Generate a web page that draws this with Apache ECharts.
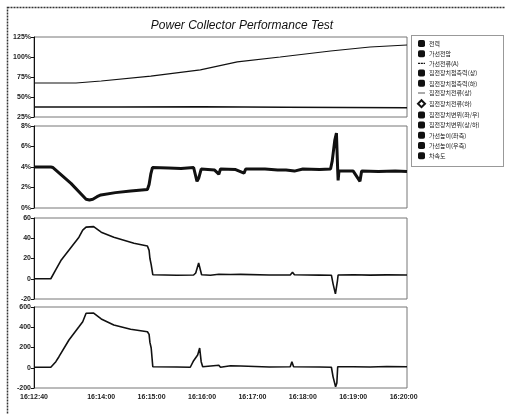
<!DOCTYPE html>
<html>
<head>
<meta charset="utf-8">
<script src="https://cdn.jsdelivr.net/npm/echarts@6/dist/echarts.min.js"></script>
<style>html,body{margin:0;padding:0;background:#fff}#c{width:505px;height:414px}</style>
</head>
<body>
<div id="c"></div>
<script>
// ---- data (seconds since start, values) ----
const startTime = [16, 12, 40];
const xTickSeconds = [0, 80, 140, 200, 260, 320, 380, 440];

const legendNames = ["전력","가선전압","가선전류(A)","집전장치접촉력(상)","집전장치접촉력(하)","집전장치전류(상)","집전장치전류(하)","집전장치변위(좌/우)","집전장치변위(상/하)","가선높이(좌측)","가선높이(우측)","차속도"];

// panel 1 (%)
const p1aT = [0, 50, 80, 139, 198, 242, 293, 353, 400, 444];
const p1aV = [67.5, 67.5, 70, 76, 84, 94, 100, 107.5, 112.5, 115];
const p1bT = [0, 100, 200, 300, 444];
const p1bV = [37.5, 37.5, 37.8, 37.2, 36.5];

// panel 2 (%)
const p2T = [0, 20, 22.6, 44, 62, 66, 70, 75, 79.6, 97, 115, 135, 137, 139, 141, 160, 175, 190, 194, 196, 199, 215, 220, 222, 240, 250, 252, 275, 290, 300, 310, 320, 340, 353, 355, 358, 360, 361.5, 362, 363, 380, 388, 390, 410, 430, 444];
const p2V = [4.0, 4.0, 3.95, 2.4, 0.85, 0.78, 0.85, 1.1, 1.27, 1.5, 1.65, 1.8, 2.3, 3.3, 3.95, 3.9, 3.85, 3.95, 2.6, 2.9, 3.8, 3.7, 3.3, 3.8, 3.75, 3.4, 3.8, 3.8, 3.7, 3.7, 3.6, 3.8, 3.75, 3.8, 4.6, 6.6, 7.3, 3.7, 2.7, 3.6, 3.6, 2.6, 3.6, 3.55, 3.6, 3.55];

// panel 3
const p3T = [0, 20, 26, 32, 53.5, 58, 62, 71, 80, 95, 119, 135, 137, 138, 139.5, 141.4, 142, 170, 190, 192.5, 196, 198, 199.5, 210, 220, 222, 234, 236, 246, 248, 280, 305, 307.7, 310, 340, 354, 356, 358.8, 360, 361.2, 362, 380, 400, 420, 444];
const p3V = [0, 0, 9, 18, 41, 48, 51, 51.5, 46, 41, 35, 32.4, 28, 20, 14, 4, 3.7, 3.5, 3.7, 5.7, 15.6, 14, 4, 3.5, 4.5, 3.5, 4.2, 3.4, 4.3, 3.6, 3.7, 3.8, 6.5, 3.9, 3.6, 3.5, -5, -15, -16, -2, 3.7, 3.9, 3.6, 3.8, 3.7];

// panel 4
const p4T = [0, 20, 26, 29.7, 41.6, 53.5, 58, 62, 71, 80, 95, 115, 135, 137, 138, 139.5, 141.4, 170, 186, 190, 194.8, 197.2, 199, 200.8, 220, 222, 234, 236, 246, 248, 280, 305, 307, 309, 340, 354, 356, 359, 360.5, 361.5, 380, 400, 420, 444];
const p4V = [5, 5, 60, 109, 274, 405, 455, 538, 540, 482, 422, 380, 356, 330, 250, 195, 10, 8, 5, 70, 126, 195, 60, 10, 25, 5, 20, 5, 18, 5, 8, 10, 60, 10, 8, 5, -90, -187, -150, 10, 10, 8, 12, 10];

const yTicks = [
  {min: 25, max: 125, interval: 25, fmt: '{value}%'},
  {min: 0, max: 8, interval: 2, fmt: '{value}%'},
  {min: -20, max: 60, interval: 20, fmt: '{value}'},
  {min: -200, max: 600, interval: 200, fmt: '{value}'}
];

// ---- build ----
const zip = (t, v) => t.map((x, i) => [x, v[i]]);
const pad = n => (n < 10 ? '0' : '') + n;
function timeLabel(s) {
  let tot = startTime[0] * 3600 + startTime[1] * 60 + startTime[2] + Math.round(s);
  const h = Math.floor(tot / 3600), m = Math.floor((tot % 3600) / 60), sec = tot % 60;
  return h + ':' + pad(m) + ':' + pad(sec);
}

const grids = [
  {left: 34, right: 98, top: 37, height: 80},
  {left: 34, right: 98, top: 126, height: 82},
  {left: 34, right: 98, top: 218, height: 81},
  {left: 34, right: 98, top: 307, height: 81}
].map(g => Object.assign({show: true, borderColor: '#777', borderWidth: 1, backgroundColor: '#fff'}, g));

const lblFont = {fontSize: 7, fontWeight: 'bold', color: '#222', fontFamily: 'Liberation Sans'};

const xAxes = grids.map((g, i) => ({
  type: 'value', gridIndex: i, min: 0, max: 444,
  splitLine: {show: false},
  axisLine: {show: false},
  axisTick: {show: false},
  axisLabel: i === 3 ? Object.assign({show: true, customValues: xTickSeconds, formatter: v => timeLabel(v), margin: 6}, lblFont) : {show: false}
}));

const yAxes = yTicks.map((y, i) => ({
  type: 'value', gridIndex: i, min: y.min, max: y.max, interval: y.interval,
  splitLine: {show: false},
  axisLine: {show: true, lineStyle: {color: '#111', width: 1}},
  axisTick: {show: true, length: 3, lineStyle: {color: '#111'}},
  axisLabel: Object.assign({formatter: y.fmt, margin: 3}, lblFont)
}));

const drawn = {
  "가선전압": {x: 0, d: zip(p1aT, p1aV), w: 1.2},
  "가선높이(좌측)": {x: 0, d: zip(p1bT, p1bV), w: 1.4},
  "집전장치변위(상/하)": {x: 1, d: zip(p2T, p2V), w: 3},
  "집전장치접촉력(상)": {x: 2, d: zip(p3T, p3V), w: 1.6},
  "집전장치접촉력(하)": {x: 3, d: zip(p4T, p4V), w: 1.6}
};

const series = legendNames.map(name => {
  const s = drawn[name];
  return {
    name, type: 'line', showSymbol: false, animation: false,
    xAxisIndex: s ? s.x : 0, yAxisIndex: s ? s.x : 0,
    data: s ? s.d : [],
    itemStyle: {color: '#111'},
    lineStyle: {color: '#111', width: s ? s.w : 1}
  };
});

const iconFor = i => {
  if (i === 2) return 'path://M0,4h3v2h-3zM4,4h3v2h-3zM8,4h2v2h-2z';
  if (i === 5) return 'path://M0,4.5h10v1h-10z';
  if (i === 6) return 'emptyDiamond';
  return 'roundRect';
};

const option = {
  backgroundColor: '#fff',
  animation: false,
  title: {
    text: 'Power Collector Performance Test',
    left: 237, top: 15, textAlign: 'center',
    textStyle: {fontSize: 12, fontWeight: 'normal', fontStyle: 'italic', color: '#111', fontFamily: 'Liberation Sans'}
  },
  legend: {
    orient: 'vertical', left: 417, top: 40, padding: 0,
    itemWidth: 7, itemHeight: 7, itemGap: 3.2,
    data: legendNames.map((n, i) => ({name: n, icon: iconFor(i)})),
    textStyle: {fontSize: 6, color: '#111', fontFamily: 'Noto Sans CJK KR', padding: [0, 0, 0, -1]},
    selectedMode: false
  },
  grid: grids,
  xAxis: xAxes,
  yAxis: yAxes,
  series,
  graphic: [
    {type: 'rect', shape: {x: 7.5, y: 7.5, width: 520, height: 430}, style: {fill: 'none', stroke: '#333', lineWidth: 1.5, lineDash: [2, 1]}, silent: true, z: 100},
    {type: 'rect', shape: {x: 411.5, y: 35.5, width: 92, height: 131}, style: {fill: 'none', stroke: '#333', lineWidth: 1, lineDash: [1, 1]}, silent: true, z: 100}
  ]
};

const chart = echarts.init(document.getElementById('c'), null, {renderer: 'canvas'});
chart.setOption(option);
</script>
</body>
</html>
